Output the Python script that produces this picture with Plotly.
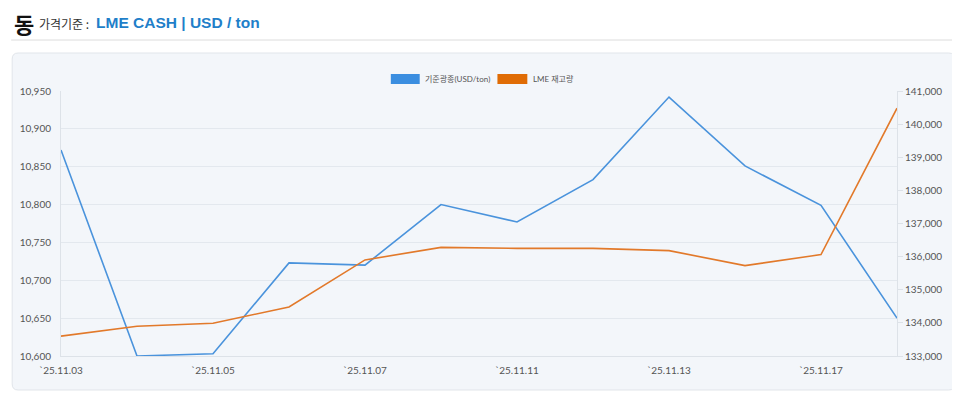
import plotly.graph_objects as go

dates = ["25.11.03", "25.11.04", "25.11.05", "25.11.06", "25.11.07", "25.11.10",
         "25.11.11", "25.11.12", "25.11.13", "25.11.14", "25.11.17", "25.11.18"]
price = [10872, 10600, 10603, 10723, 10720, 10800, 10777, 10833, 10942, 10851, 10799, 10650]
stock = [133600, 133900, 133990, 134480, 135900, 136280, 136250, 136250, 136180, 135730, 136060, 140480]
price_ticks = [10600, 10650, 10700, 10750, 10800, 10850, 10900, 10950]
stock_ticks = [133000, 134000, 135000, 136000, 137000, 138000, 139000, 140000, 141000]
series_names = ["기준광종(USD/ton)", "LME 재고량"]

OFF = 8  # page body margin offset
W, H = 960 - OFF, 396 - OFF
L, R, T, B = 58, 897, 91, 356  # plot area in window pixels

def px(x):
    return (x - L) / (R - L)

def py(y):
    return (B - y) / (B - T)

BLUE = "#4a93dc"
ORANGE = "#e2792a"
FONT = "Lato, 'Noto Sans CJK KR', sans-serif"

fig = go.Figure()
fig.add_trace(go.Scatter(x=dates, y=price, mode="lines", name=series_names[0],
                         line=dict(color=BLUE, width=1.6), yaxis="y", showlegend=False))
fig.add_trace(go.Scatter(x=dates, y=stock, mode="lines", name=series_names[1],
                         line=dict(color=ORANGE, width=1.6), yaxis="y2", showlegend=False))

tick_x = dates[0::2]
fig.update_layout(
    width=W, height=H,
    margin=dict(l=L - OFF, r=960 - R, t=T - OFF, b=396 - B, pad=0),
    paper_bgcolor="white", plot_bgcolor="rgba(0,0,0,0)",
    font=dict(family=FONT, size=10, color="#555"),
    xaxis=dict(type="category", range=[0, len(dates) - 1],
               tickmode="array", tickvals=tick_x, ticktext=["`" + d for d in tick_x],
               showgrid=False, showline=True, linecolor="#dde2e8", linewidth=1,
               ticks="outside", ticklen=5, tickcolor="rgba(0,0,0,0)",
               tickfont=dict(size=10, color="#555"), zeroline=False),
    yaxis=dict(range=[10600, 10950], tickmode="array", tickvals=price_ticks,
               ticktext=[f"{v:,}" for v in price_ticks],
               showgrid=True, gridcolor="#e3e8ee", gridwidth=1,
               showline=True, linecolor="#dde2e8", zeroline=False,
               ticks="outside", ticklen=7, tickcolor="rgba(0,0,0,0)",
               tickfont=dict(size=10, color="#555")),
    yaxis2=dict(range=[133000, 141000], overlaying="y", side="right",
                tickmode="array", tickvals=stock_ticks,
                ticktext=[f"{v:,}" for v in stock_ticks],
                showgrid=False, showline=True, linecolor="#dde2e8", zeroline=False,
                ticks="outside", ticklen=5, tickcolor="#dde2e8",
                tickfont=dict(size=10, color="#555")),
)

# panel with rounded corners
x0, x1, y0, y1, r = 9, 955, 53, 390, 6
path = (f"M {px(x0+r)} {py(y0)} L {px(x1-r)} {py(y0)} Q {px(x1)} {py(y0)} {px(x1)} {py(y0+r)} "
        f"L {px(x1)} {py(y1-r)} Q {px(x1)} {py(y1)} {px(x1-r)} {py(y1)} "
        f"L {px(x0+r)} {py(y1)} Q {px(x0)} {py(y1)} {px(x0)} {py(y1-r)} "
        f"L {px(x0)} {py(y0+r)} Q {px(x0)} {py(y0)} {px(x0+r)} {py(y0)} Z")
shapes = [
    dict(type="path", xref="paper", yref="paper", path=path,
         fillcolor="#f3f6fa", line=dict(color="#e1e5ea", width=1), layer="below"),
    dict(type="line", xref="paper", yref="paper", x0=px(8), x1=px(955), y0=py(40), y1=py(40),
         line=dict(color="#dcdcdc", width=1)),
    dict(type="rect", xref="paper", yref="paper", x0=px(389), x1=px(418), y0=py(84), y1=py(74),
         fillcolor="#3b8ee0", line=dict(width=0)),
    dict(type="rect", xref="paper", yref="paper", x0=px(496), x1=px(526), y0=py(84), y1=py(74),
         fillcolor="#e06c05", line=dict(width=0)),
]
annotations = [
    dict(text="<b>동</b>", x=px(9), y=py(23), xref="paper", yref="paper", xanchor="left",
         yanchor="middle", showarrow=False,
         font=dict(family="'Noto Sans CJK KR', sans-serif", size=22, color="#111")),
    dict(text="가격기준 :", x=px(34), y=py(23), xref="paper", yref="paper", xanchor="left",
         yanchor="middle", showarrow=False,
         font=dict(family="'Noto Sans CJK KR', sans-serif", size=12, color="#333")),
    dict(text="<b>LME CASH | USD / ton</b>", x=px(91), y=py(22), xref="paper", yref="paper",
         xanchor="left", yanchor="middle", showarrow=False,
         font=dict(family="'Liberation Sans', Arial, sans-serif", size=15.5, color="#1f7fc9")),
    dict(text=series_names[0], x=px(421), y=py(79), xref="paper", yref="paper", xanchor="left",
         yanchor="middle", showarrow=False,
         font=dict(family=FONT, size=8, color="#555")),
    dict(text=series_names[1], x=px(530), y=py(79), xref="paper", yref="paper", xanchor="left",
         yanchor="middle", showarrow=False,
         font=dict(family=FONT, size=8, color="#555")),
]
fig.update_layout(shapes=shapes, annotations=annotations)

fig.write_html("out.html")
